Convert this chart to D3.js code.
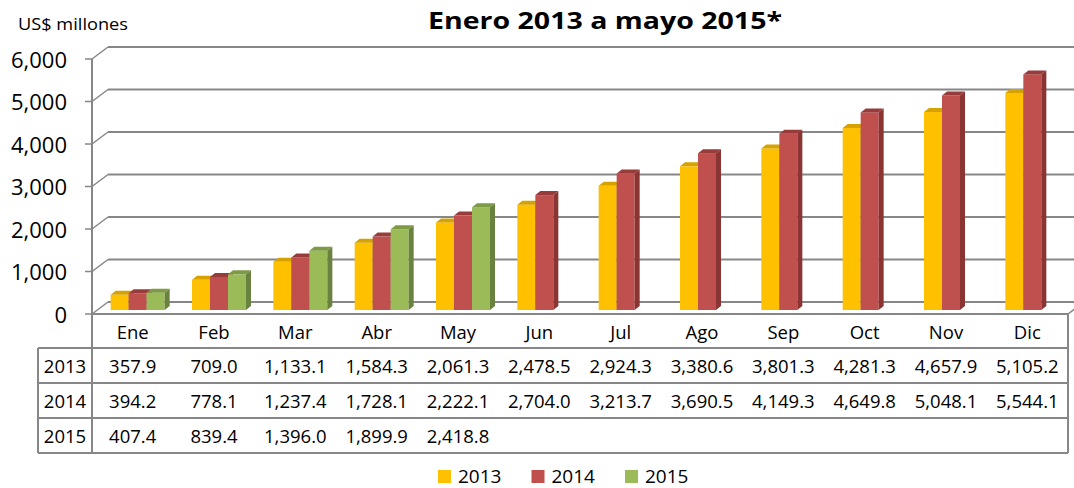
<!DOCTYPE html>
<html><head><meta charset="utf-8">
<script src="https://cdn.jsdelivr.net/npm/d3@7"></script>
<style>body{margin:0;background:#fff}svg{display:block}text{font-family:"Open Sans",sans-serif;fill:#000}</style>
</head><body><svg id="c" width="1074" height="488"></svg>
<script>
const months = ["Ene","Feb","Mar","Abr","May","Jun","Jul","Ago","Sep","Oct","Nov","Dic"];
const years = ["2013","2014","2015"];
const s2013 = [357.9,709.0,1133.1,1584.3,2061.3,2478.5,2924.3,3380.6,3801.3,4281.3,4657.9,5105.2];
const s2014 = [394.2,778.1,1237.4,1728.1,2222.1,2704.0,3213.7,3690.5,4149.3,4649.8,5048.1,5544.1];
const s2015 = [407.4,839.4,1396.0,1899.9,2418.8];
const yTicks = [0,1000,2000,3000,4000,5000,6000];
const title = "Enero 2013 a mayo 2015*";
const unitLabel = "US$ millones";

const series = [s2013, s2014, s2015];
const colors = {front:["#FFC000","#C0504D","#9BBB59"], top:["#D6A200","#973C3A","#7D9A45"], side:["#B38700","#8A3533","#6A8240"]};

const svg = d3.select("#c");
const X0 = 92, X1 = 1068, DX = 16, DY = -12;
const x = d3.scaleBand().domain(months).range([X0, X1]);
const xi = d3.scaleBand().domain(years).range([0, 54]);
const y = d3.scaleLinear().domain([0, 6000]).range([314, 59]);
const fmt = d3.format(",.1f");
const fmtT = d3.format(",");
const grid = "#878787";

// back wall gridlines + left wall diagonals + ticks
const g = svg.append("g");
yTicks.forEach(v => {
  g.append("line").attr("x1", X0 + DX).attr("x2", X1 + DX).attr("y1", y(v) + DY).attr("y2", y(v) + DY)
    .attr("stroke", grid).attr("stroke-width", 2);
  g.append("line").attr("x1", X0).attr("x2", X0 + DX).attr("y1", y(v)).attr("y2", y(v) + DY)
    .attr("stroke", grid).attr("stroke-width", 1.5);
  g.append("line").attr("x1", X0 - 7).attr("x2", X0).attr("y1", y(v)).attr("y2", y(v))
    .attr("stroke", grid).attr("stroke-width", 1.5);
  g.append("text").attr("x", 67).attr("y", y(v) + 8.5).attr("text-anchor", "end")
    .style("font-size", "22px").text(fmtT(v));
});
// floor front edge and right diagonal
g.append("line").attr("x1", X0).attr("x2", X1).attr("y1", y(0)).attr("y2", y(0)).attr("stroke", grid).attr("stroke-width", 2);
g.append("line").attr("x1", X1).attr("x2", X1 + DX).attr("y1", y(0)).attr("y2", y(0) + DY).attr("stroke", grid).attr("stroke-width", 1.5);
// y axis line
g.append("line").attr("x1", X0).attr("x2", X0).attr("y1", y(6000)).attr("y2", 453).attr("stroke", grid).attr("stroke-width", 2);

// bars
const bdx = 5, bdy = -4;
const bars = svg.append("g");
months.forEach((m, i) => {
  years.forEach((yr, s) => {
    const v = series[s][i];
    if (v === undefined) return;
    const bx = x(m) + x.bandwidth() / 2 - 27 + xi(yr) + bdx;
    const bw = xi.bandwidth();
    const top = y(v) + bdy, base = y(0) + bdy;
    bars.append("rect").attr("x", bx).attr("y", top).attr("width", bw).attr("height", base - top).attr("fill", colors.front[s]);
    bars.append("path").attr("d", `M${bx},${top}L${bx + bdx},${top + bdy}L${bx + bw + bdx},${top + bdy}L${bx + bw},${top}Z`).attr("fill", colors.top[s]);
    bars.append("path").attr("d", `M${bx + bw},${top}L${bx + bw + bdx},${top + bdy}L${bx + bw + bdx},${base + bdy}L${bx + bw},${base}Z`).attr("fill", colors.side[s]);
  });
});

// data table
const tb = svg.append("g");
const rowY = [348, 383, 418, 453];
rowY.forEach(r => tb.append("line").attr("x1", 38).attr("x2", X1).attr("y1", r).attr("y2", r).attr("stroke", grid).attr("stroke-width", 2));
tb.append("line").attr("x1", 38).attr("x2", 38).attr("y1", 348).attr("y2", 453).attr("stroke", grid).attr("stroke-width", 2);
tb.append("line").attr("x1", X1).attr("x2", X1).attr("y1", y(0)).attr("y2", 453).attr("stroke", grid).attr("stroke-width", 2);
months.forEach(m => {
  tb.append("text").attr("x", x(m) + x.bandwidth() / 2).attr("y", 338.5).attr("text-anchor", "middle").style("font-size", "18.5px").text(m);
});
years.forEach((yr, s) => {
  const cy = (rowY[s] + rowY[s + 1]) / 2 + 7.5;
  tb.append("text").attr("x", 65).attr("y", cy).attr("text-anchor", "middle").style("font-size", "18.5px").text(yr);
  series[s].forEach((v, i) => {
    tb.append("text").attr("x", x(months[i]) + x.bandwidth() / 2).attr("y", cy).attr("text-anchor", "middle").style("font-size", "18.5px").text(fmt(v));
  });
});

// titles
svg.append("text").attr("x", 605).attr("y", 28.5).attr("text-anchor", "middle")
  .attr("textLength", 354).attr("lengthAdjust", "spacingAndGlyphs")
  .style("font-size", "24px").style("font-weight", "bold").text(title);
svg.append("text").attr("x", 18).attr("y", 30).attr("textLength", 110).attr("lengthAdjust", "spacingAndGlyphs")
  .style("font-size", "17px").text(unitLabel);

// legend
const lg = svg.append("g");
years.forEach((yr, s) => {
  const lx = 438 + s * 93.5;
  lg.append("rect").attr("x", lx).attr("y", 470).attr("width", 13).attr("height", 13).attr("fill", colors.front[s]);
  lg.append("text").attr("x", lx + 20).attr("y", 483).style("font-size", "19px").text(yr);
});
</script></body></html>
